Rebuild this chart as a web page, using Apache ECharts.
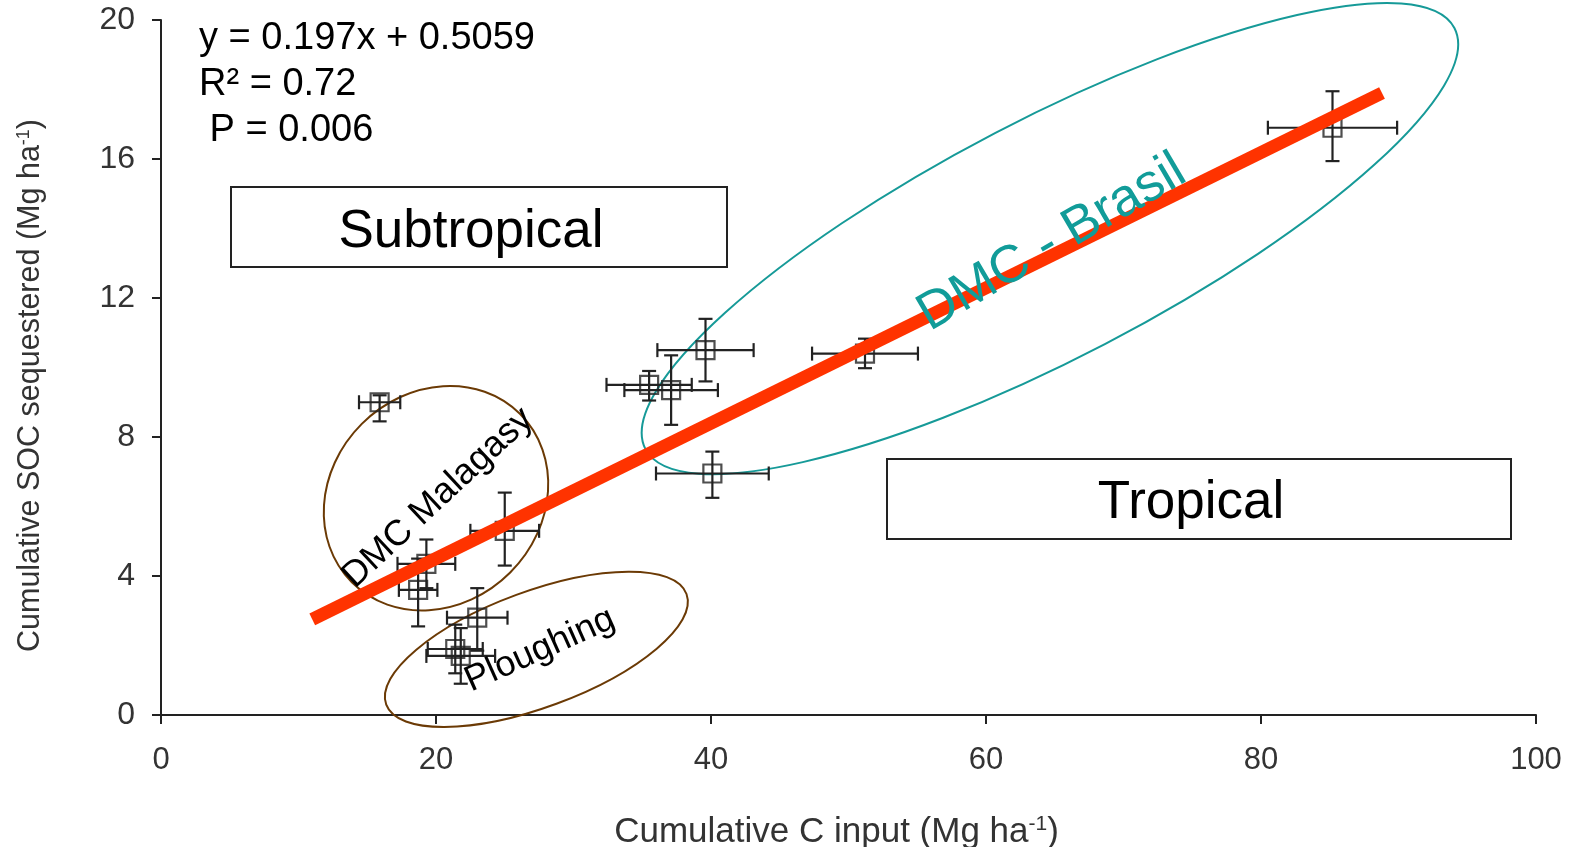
<!DOCTYPE html>
<html>
<head>
<meta charset="utf-8">
<script src="https://cdn.jsdelivr.net/npm/echarts@6/dist/echarts.min.js"></script>
<style>
  html, body { margin: 0; padding: 0; background: #fff; }
  #chart { width: 1569px; height: 847px; }
</style>
</head>
<body>
<div id="chart"></div>
<script>
// SOC sequestered vs C input, with x/y error bars
const xVals   = [15.9, 19.3, 18.7, 25.0, 23.0, 21.4, 21.8, 39.6, 35.5, 37.1, 51.2, 40.1, 85.2]
const yVals   = [9.0, 4.35, 3.6, 5.3, 2.8, 1.9, 1.7, 10.5, 9.5, 9.35, 10.4, 6.95, 16.9]
const xErr    = [1.5, 2.1, 1.4, 2.5, 2.2, 2.0, 2.5, 3.5, 3.1, 3.4, 3.85, 4.1, 4.7]
const yErrLo  = [0.55, 0.7, 1.05, 1.0, 0.95, 0.7, 0.8, 0.9, 0.45, 1.0, 0.42, 0.7, 0.96]
const yErrHi  = [0.2, 0.7, 0.9, 1.1, 0.85, 0.7, 0.8, 0.9, 0.4, 1.0, 0.43, 0.63, 1.05]

// fitted line end points (y = 0.197x + 0.5059)
const fitX = [11, 88.8]
const fitY = [2.75, 17.9]

const xTicks = [0, 20, 40, 60, 80, 100]
const yTicks = [0, 4, 8, 12, 16, 20]

// group ellipses: centre in data units
const groupNames   = ['DMC - Brasil', 'DMC Malagasy', 'Ploughing']
const groupCenterX = [64.65, 20.0, 27.3]
const groupCenterY = [13.71, 6.24, 1.89]

const FONT = '"Liberation Sans", Arial, sans-serif'
const INK = '#222'
// ellipse look (pixels / radians)
const ellipseStyle = [
  { rx: 456, ry: 119, rot: 0.48, color: '#169a98' },
  { rx: 119, ry: 105, rot: 0.785, color: '#6b3a05' },
  { rx: 160, ry: 58, rot: 0.353, color: '#6b3a05' }
]

const chart = echarts.init(document.getElementById('chart'), null, { renderer: 'canvas' })

const errData = xVals.map((x, i) => [x, yVals[i], xErr[i], yErrLo[i], yErrHi[i]])

function renderErr(params, api) {
  const x = api.value(0), y = api.value(1)
  const ex = api.value(2), lo = api.value(3), hi = api.value(4)
  const l = api.coord([x - ex, y]), r = api.coord([x + ex, y])
  const b = api.coord([x, y - lo]), t = api.coord([x, y + hi])
  const c = 7
  const style = { stroke: INK, lineWidth: 2.2, fill: null }
  const ln = (x1, y1, x2, y2) => ({ type: 'line', shape: { x1, y1, x2, y2 }, style })
  return {
    type: 'group',
    children: [
      ln(l[0], l[1], r[0], r[1]),
      ln(l[0], l[1] - c, l[0], l[1] + c),
      ln(r[0], r[1] - c, r[0], r[1] + c),
      ln(b[0], b[1], t[0], t[1]),
      ln(b[0] - c, b[1], b[0] + c, b[1]),
      ln(t[0] - c, t[1], t[0] + c, t[1])
    ]
  }
}

function renderEllipse(params, api) {
  const p = api.coord([api.value(0), api.value(1)])
  const s = ellipseStyle[params.dataIndex]
  return {
    type: 'ellipse',
    x: p[0], y: p[1], rotation: s.rot,
    shape: { cx: 0, cy: 0, rx: s.rx, ry: s.ry },
    style: { fill: null, stroke: s.color, lineWidth: 2 }
  }
}

const txt = (text, x, y, size, opts = {}) => ({
  type: 'text', x, y, z: 100,
  rotation: opts.rot || 0,
  style: {
    text, fill: opts.color || '#000', font: `${size}px ${FONT}`,
    align: opts.align || 'center', verticalAlign: 'middle'
  }
})

chart.setOption({
  animation: false,
  backgroundColor: '#fff',
  grid: { left: 161, right: 33, top: 20, bottom: 132, outerBoundsMode: 'none', containLabel: false },
  xAxis: {
    type: 'value', min: xTicks[0], max: xTicks[xTicks.length - 1], interval: 20,
    name: 'Cumulative C input (Mg ha{sup|-1})',
    nameLocation: 'middle', nameGap: 99,
    nameTextStyle: {
      fontFamily: FONT, fontSize: 35, color: '#333', padding: [0, 24, 0, 0],
      rich: { sup: { fontFamily: FONT, fontSize: 21, color: '#333', verticalAlign: 'top', padding: [0, 0, 15, 0] } }
    },
    axisLine: { lineStyle: { color: INK, width: 2 } },
    axisTick: { length: 9, lineStyle: { color: INK, width: 2 } },
    axisLabel: { fontFamily: FONT, fontSize: 31, color: '#333', margin: 30 },
    splitLine: { show: false }
  },
  yAxis: {
    type: 'value', min: yTicks[0], max: yTicks[yTicks.length - 1], interval: 4,
    name: 'Cumulative SOC sequestered (Mg ha{sup|-1})',
    nameLocation: 'middle', nameGap: 115,
    nameTextStyle: {
      fontFamily: FONT, fontSize: 30.5, color: '#333', padding: [0, 36, 0, 0],
      rich: { sup: { fontFamily: FONT, fontSize: 18, color: '#333', verticalAlign: 'top', padding: [0, 0, 12, 0] } }
    },
    axisLine: { lineStyle: { color: INK, width: 2 } },
    axisTick: { length: 9, lineStyle: { color: INK, width: 2 } },
    axisLabel: { fontFamily: FONT, fontSize: 32, color: '#333', margin: 26 },
    splitLine: { show: false }
  },
  graphic: [
    txt('y = 0.197x + 0.5059', 199, 39, 38, { align: 'left' }),
    txt('R\u00b2 = 0.72', 199, 85, 38, { align: 'left' }),
    txt(' P = 0.006', 199, 131, 38, { align: 'left' }),
    {
      type: 'rect', z: 90,
      shape: { x: 231, y: 187, width: 496, height: 80 },
      style: { fill: '#fff', stroke: INK, lineWidth: 2 }
    },
    txt('Subtropical', 471, 232, 53),
    {
      type: 'rect', z: 90,
      shape: { x: 887, y: 459, width: 624, height: 80 },
      style: { fill: '#fff', stroke: INK, lineWidth: 2 }
    },
    txt('Tropical', 1191, 503, 53),
    txt(groupNames[0], 1052, 243, 53, { rot: 0.53, color: '#119c99' }),
    txt(groupNames[1], 438, 498, 36, { rot: 0.75 }),
    txt(groupNames[2], 540, 650, 36, { rot: 0.42 })
  ],
  series: [
    {
      type: 'custom', name: 'groups', z: 2,
      renderItem: renderEllipse,
      data: groupCenterX.map((x, i) => [x, groupCenterY[i]]),
      silent: true
    },
    {
      type: 'custom', name: 'error bars', z: 3,
      renderItem: renderErr,
      data: errData
    },
    {
      type: 'scatter', name: 'sites', z: 4,
      symbol: 'rect', symbolSize: 18,
      itemStyle: { color: 'rgba(255,255,255,0)', borderColor: INK, borderWidth: 2.2 },
      data: xVals.map((x, i) => [x, yVals[i]])
    },
    {
      type: 'line', name: 'fit', z: 5,
      symbol: 'none',
      lineStyle: { color: '#ff3300', width: 13, cap: 'butt' },
      data: fitX.map((x, i) => [x, fitY[i]])
    }
  ]
})
</script>
</body>
</html>
